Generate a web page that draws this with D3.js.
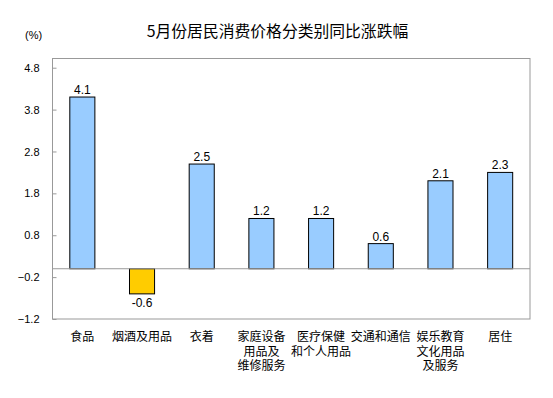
<!DOCTYPE html>
<html><head><meta charset="utf-8">
<script src="https://cdn.jsdelivr.net/npm/d3@7"></script>
<style>body{margin:0;background:#fff}svg{display:block}</style>
</head><body>
<svg id="c" width="553" height="398"></svg>
<script>
const categories = [["食品"],["烟酒及用品"],["衣着"],["家庭设备","用品及","维修服务"],["医疗保健","和个人用品"],["交通和通信"],["娱乐教育","文化用品","及服务"],["居住"]];
const values = [4.1,-0.6,2.5,1.2,1.2,0.6,2.1,2.3];
const tickValues = [-1.2,-0.2,0.8,1.8,2.8,3.8,4.8];
const title = "5月份居民消费价格分类别同比涨跌幅";
const unit = "(%)";

const svg = d3.select("#c");
const L=52.5, R=530, T=58.5, B=319;
const x = d3.scaleBand().domain(d3.range(values.length)).range([L,R]).paddingInner(0.58).paddingOuter(0.29);
const y = d3.scaleLinear().domain([-1.2,5.02]).range([B,T]);
const cjk = "'Noto Sans CJK SC','SimSun',sans-serif";
const lat = "Arial,'Liberation Sans',sans-serif";

svg.append("text").attr("x",277.5).attr("y",37).attr("text-anchor","middle")
  .style("font-family",cjk).style("font-size","15.8px").attr("fill","#000").text(title);
svg.append("text").attr("x",25).attr("y",39)
  .style("font-family",lat).style("font-size","11px").text(unit);

svg.append("rect").attr("x",L).attr("y",T).attr("width",R-L).attr("height",B-T)
  .attr("fill","none").attr("stroke","#999").attr("stroke-width",1);

const ax = svg.append("g").attr("transform",`translate(${L},0)`)
  .call(d3.axisRight(y).tickValues(tickValues).tickSize(4).tickFormat(d3.format(".1f")));
ax.select(".domain").remove();
ax.selectAll("line").attr("stroke","#999");
ax.selectAll("text").attr("x",-13).attr("text-anchor","end")
  .style("font-family",lat).style("font-size","11px").attr("fill","#000");

svg.selectAll("rect.bar").data(values).join("rect").attr("class","bar")
  .attr("x",(d,i)=>x(i)).attr("width",x.bandwidth())
  .attr("y",d=>y(Math.max(0,d))).attr("height",d=>Math.abs(y(d)-y(0)))
  .attr("fill",d=>d<0?"#FFCC00":"#99CCFF").attr("stroke","#000").attr("stroke-width",1);

svg.append("line").attr("x1",L).attr("x2",R).attr("y1",y(0)).attr("y2",y(0)).attr("stroke","#999");

svg.selectAll("text.val").data(values).join("text").attr("class","val")
  .attr("x",(d,i)=>x(i)+x.bandwidth()/2)
  .attr("y",d=>d<0?y(d)+13:y(d)-3)
  .attr("text-anchor","middle")
  .style("font-family",lat).style("font-size","12px")
  .text(d=>d.toFixed(1));

const flat = [];
categories.forEach((lines,i)=>lines.forEach((l,j)=>flat.push({i,j,l})));
svg.selectAll("text.cat").data(flat).join("text").attr("class","cat")
  .attr("text-anchor","middle").style("font-family",cjk).style("font-size","12px")
  .attr("x",d=>x(d.i)+x.bandwidth()/2).attr("y",d=>341+d.j*14.5).text(d=>d.l);
</script>
</body></html>
